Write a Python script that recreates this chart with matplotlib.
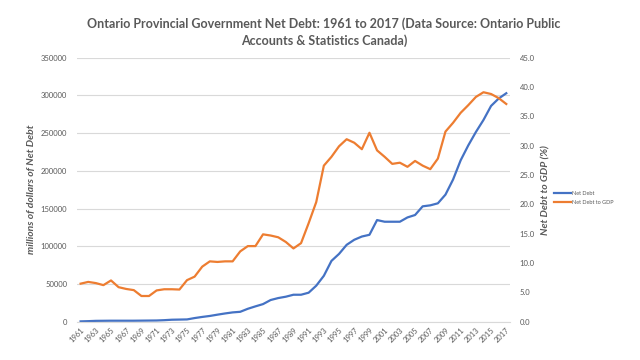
import matplotlib
matplotlib.use("Agg")
import matplotlib.pyplot as plt
from matplotlib.ticker import FormatStrFormatter

plt.rcParams['font.family'] = ['Lato', 'DejaVu Sans']

years = list(range(1961, 2018))

# millions of dollars
net_debt = [600, 900, 1300, 1400, 1500, 1500, 1500, 1500, 1600, 1700,
            1800, 2200, 2800, 3000, 3200, 5000, 6500, 7800, 9500, 11100,
            12500, 13300, 17300, 20500, 23500, 28900, 31500, 33300, 35900, 35900,
            38600, 47900, 61000, 80700, 90000, 102000, 108700, 113000, 115300, 134800,
            132600, 132600, 132600, 138300, 141500, 153000, 154300, 157000, 168500, 188500,
            214000, 233700, 251400, 267400, 286000, 295800, 302800]

# percent
debt_to_gdp = [6.5, 6.8, 6.6, 6.25, 7.05, 5.9, 5.6, 5.4, 4.4, 4.4,
               5.35, 5.55, 5.55, 5.5, 7.1, 7.7, 9.4, 10.3, 10.2, 10.3,
               10.3, 12.0, 12.9, 12.9, 14.9, 14.7, 14.4, 13.6, 12.5, 13.4,
               16.8, 20.4, 26.6, 28.1, 29.9, 31.1, 30.5, 29.4, 32.2, 29.2,
               28.1, 26.9, 27.1, 26.4, 27.4, 26.6, 26.0, 27.8, 32.4, 33.9,
               35.6, 36.9, 38.3, 39.1, 38.8, 38.1, 37.1]

blue = '#4472C4'
orange = '#ED7D31'
grey = '#595959'

fig = plt.figure(figsize=(6.4, 3.6), dpi=100)
ax = fig.add_axes([0.120, 0.106, 0.677, 0.734])
ax2 = ax.twinx()

l1, = ax.plot(years, net_debt, color=blue, lw=1.6, label='Net Debt')
l2, = ax2.plot(years, debt_to_gdp, color=orange, lw=1.6, label='Net Debt to GDP')

ax.set_xlim(1960.5, 2017.5)
ax.set_ylim(0, 350000)
ax.set_yticks(range(0, 350001, 50000))
ax2.set_ylim(0, 45)
ax2.set_yticks([i * 5 for i in range(10)])
ax2.yaxis.set_major_formatter(FormatStrFormatter('%.1f'))

ax.set_xticks(years[::2])
ax.set_xticklabels([str(y) for y in years[::2]], rotation=45, ha='right',
                   rotation_mode='anchor')

ax.grid(axis='y', color='#d9d9d9', lw=0.8)
ax.set_axisbelow(True)
for a in (ax, ax2):
    for s in a.spines.values():
        s.set_visible(False)
    a.tick_params(length=0, labelsize=5.5, labelcolor=grey)
ax.spines['bottom'].set_visible(True)
ax.spines['bottom'].set_color('#d9d9d9')
ax.tick_params(axis='x', pad=3)
ax.tick_params(axis='y', pad=7)
ax2.tick_params(axis='y', pad=7)

ax.set_ylabel('millions of dollars of Net Debt', fontsize=7.5, style='italic',
              fontweight='bold', color=grey, labelpad=3)
ax2.set_ylabel('Net Debt to GDP (%)', fontsize=7.5, style='italic',
               fontweight='bold', color=grey, labelpad=5)

fig.text(0.506, 0.91, 'Ontario Provincial Government Net Debt: 1961 to 2017 (Data Source: Ontario Public\n'
         'Accounts & Statistics Canada)', ha='center', va='center', fontsize=9,
         fontweight='bold', color=grey, linespacing=1.45)

fig.legend([l1, l2], ['Net Debt', 'Net Debt to GDP'], loc='center left',
           bbox_to_anchor=(0.858, 0.45), frameon=False, fontsize=4,
           labelcolor=grey, handlelength=3, handletextpad=0.3, labelspacing=0.8)

fig.savefig('out.png', dpi=100)
